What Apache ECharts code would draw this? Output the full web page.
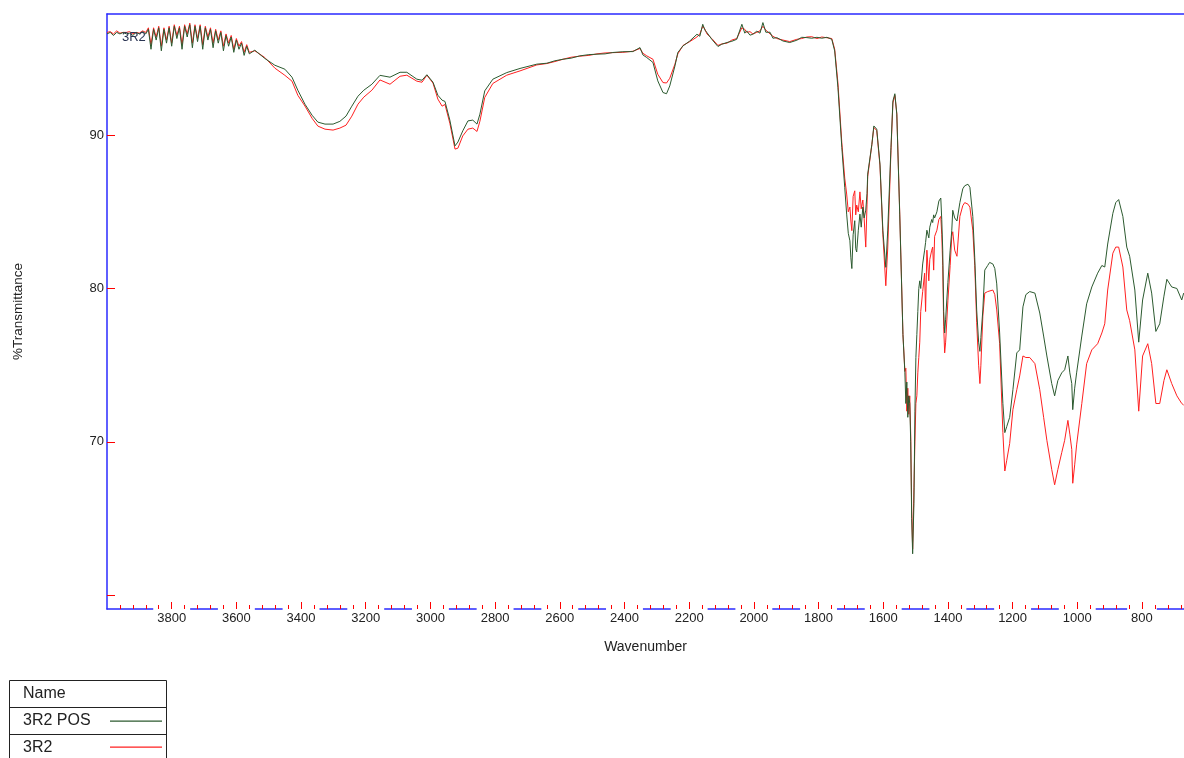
<!DOCTYPE html>
<html><head><meta charset="utf-8">
<script src="https://cdn.jsdelivr.net/npm/echarts@6/dist/echarts.min.js"></script>
<style>html,body{margin:0;padding:0;background:#fff}#c{width:1184px;height:758px}</style>
</head><body><div id="c"></div>
<script>
// ---- data (wavenumber cm-1, %Transmittance) ----
const wn1 = [4000,3990,3980,3970,3960,3950,3940,3930,3920,3910,3900,3890,
  3880,3872,3864,3856,3848,3840,3832,3824,3816,3808,3800,3792,3784,3776,3768,3760,3752,3744,3736,3728,3720,3712,3704,3696,3688,3680,3672,3664,3656,3648,3640,3632,3624,3616,3608,3600,3592,3584,3576,3568,3560];
const pos1 = [96.6,96.7,96.5,96.7,96.6,96.7,96.6,96.65,96.5,96.7,96.6,96.75,
  96.6,96.9,95.6,96.9,96.2,97.0,95.5,96.9,96.0,97.0,95.8,97.1,96.3,97.0,95.6,97.1,96.4,97.2,95.7,97.1,96.1,97.1,95.6,97.0,96.2,96.9,95.7,96.8,96.0,96.7,95.5,96.5,95.8,96.4,95.4,96.2,95.6,96.0,95.2,95.8,95.3];
const ref1 = [96.7,96.75,96.6,96.8,96.65,96.7,96.7,96.75,96.6,96.7,96.65,96.8,
  96.7,97.0,95.9,97.0,96.4,97.1,95.8,97.0,96.2,97.1,96.0,97.2,96.5,97.1,95.9,97.2,96.6,97.3,96.0,97.2,96.3,97.2,95.9,97.1,96.4,97.0,96.0,96.9,96.2,96.8,95.8,96.6,96.0,96.5,95.6,96.3,95.8,96.1,95.4,95.9,95.4];

const wn2 = [3543,3512,3481,3450,3428,3410,3388,3366,3348,3326,
  3301,3280,3261,3243,3224,3206,3181,3156,3125,3094,
  3073,3042,3026,3011,2992,2977,2964,2955,2940,2924,
  2915,2900,2884,2869,2856,2847,2832,2807,2764,2723,
  2671,2640,2615,2590,2565,2538,2510,2485,2460,2436,
  2405,2374,2352,2343,2331,2312,2297,2281,2270,2260,
  2244,2235,2219,2198,2176,2167,2158,2151,2145,2130,
  2111,2099,2083,2068,2053,2037,2028,2022,2012,2003,
  1991,1981,1972,1963,1950,1941,1929,1910,1889,1867,
  1852,1836,1821,1805,1790,1774,1759];
const pos2 = [95.54,95.0,94.56,94.3,93.78,92.93,92.02,91.3,90.85,90.72,
  90.72,90.9,91.24,91.89,92.54,92.93,93.32,93.9,93.78,94.1,
  94.1,93.65,93.58,93.94,93.45,92.6,92.28,92.2,90.98,89.3,
  89.55,90.28,90.93,90.98,90.72,91.37,92.89,93.65,94.08,94.35,
  94.63,94.69,94.85,94.95,95.02,95.17,95.25,95.28,95.3,95.39,
  95.44,95.45,95.71,95.23,95.06,94.74,93.54,92.78,92.7,93.21,
  94.51,95.39,95.82,96.14,96.58,96.45,97.23,96.84,96.69,96.25,
  95.78,95.93,96.04,96.12,96.25,97.23,96.65,96.8,96.52,96.58,
  96.78,96.65,97.34,96.71,96.71,96.32,96.36,96.14,96.04,96.19,
  96.38,96.36,96.32,96.38,96.32,96.38,96.25];
const ref2 = [95.5,95.06,94.37,93.9,93.52,92.6,91.9,91.1,90.59,90.39,
  90.33,90.46,90.65,91.24,92.02,92.48,92.93,93.6,93.32,93.84,
  93.91,93.52,93.45,93.91,93.39,92.35,91.89,92.0,90.78,89.09,
  89.15,89.95,90.39,90.46,90.24,90.91,92.46,93.37,93.91,94.19,
  94.58,94.67,94.8,94.95,95.08,95.15,95.2,95.3,95.36,95.38,
  95.4,95.47,95.65,95.34,95.17,94.95,93.97,93.43,93.4,93.71,
  94.63,95.3,95.85,96.1,96.4,96.6,97.1,96.9,96.6,96.3,
  95.85,95.95,96.0,96.2,96.3,97.0,96.9,96.7,96.75,96.6,
  96.7,96.8,97.1,96.85,96.6,96.45,96.3,96.2,96.1,96.25,
  96.3,96.4,96.42,96.3,96.4,96.35,96.3];

const wn3 = [1750,1740,1728,1719,1713,1708,1703,1700,1697,1693,
  1688,1685,1682,1677,1672,1668,1663,1659,1654,1650,
  1648,1635,1629,1620,1610,1601,1592,1586,1576,1570,
  1564,1558,1549,1539,1533,1530,1527,1524,1521,1518,
  1515,1512,1509,1505,1502,1499,1496,1493,1490,1487];
const pos3 = [95.49,93.11,89.2,86.6,84.85,83.6,83.11,82.0,81.3,83.5,
  84.42,82.6,82.38,83.8,84.85,84.0,85.31,84.6,85.11,86.2,
  87.46,89.41,90.6,90.39,88.11,83.77,81.38,83.81,89.2,92.23,
  92.7,91.37,84.85,77.0,74.5,72.5,73.9,71.6,73.0,72.5,
  70.0,65.0,62.7,66.0,72.0,75.5,77.0,78.5,80.0,80.5];
const ref3 = [95.6,93.4,89.5,87.2,86.16,85.0,85.31,84.4,83.77,86.0,
  86.37,84.8,85.44,85.0,86.3,85.2,85.77,84.6,82.7,85.5,
  87.3,89.4,90.5,90.3,88.0,83.5,80.18,82.64,89.0,92.1,
  92.6,91.4,85.0,77.0,74.6,74.8,72.0,73.5,71.8,73.0,
  70.5,65.5,63.0,67.0,70.0,72.5,73.0,74.5,75.5,76.5];

const wn4 = [1484,1478,1472,1469,1465,1459,1456,1450,1447,1444,
  1441,1434,1428,1422,1419,1416,1413,1410,1407,1400,
  1393,1388,1385,1379,1372,1363,1354,1348,1338,1332,
  1323,1317,1311,1305,1301,1298,1292,1286,1277,1271,
  1261,1255,1249,1240,1230,1224,1218,1209,1199,1187,
  1178,1168,1159,1147,1131,1116,1104,1094,1079,1070,
  1060,1048,1039,1029,1023,1017,1014,1008,1002,986,
  971,955,937,924,915,906,890,881,872,859,
  847,838,822,810,798,782,770,757,745,732,
  723,708,692,677,671];
const pos4 = [80.0,81.6,82.5,83.0,83.8,83.3,84.0,84.5,84.3,84.8,
  84.6,85.0,85.7,85.9,84.5,82.5,78.5,77.1,78.0,80.4,
  82.5,83.8,85.1,84.6,84.4,85.6,86.5,86.7,86.8,86.6,
  84.7,82.0,78.6,76.5,75.9,76.8,78.6,81.2,81.5,81.7,
  81.6,81.3,80.3,77.1,72.5,70.6,71.0,71.6,73.4,75.8,
  76.0,78.8,79.6,79.8,79.7,78.4,76.9,75.6,73.8,73.0,
  74.0,74.5,74.7,75.6,74.5,73.8,72.1,73.5,74.5,76.9,
  79.0,80.1,81.0,81.5,81.4,82.9,84.9,85.6,85.8,84.7,
  82.7,82.1,79.9,76.5,79.25,81.0,79.7,77.2,77.7,79.5,
  80.6,80.1,80.0,79.25,79.7];
const ref4 = [78.5,79.8,81.0,78.5,82.5,80.5,81.9,82.5,82.7,81.2,
  83.4,83.8,84.5,84.7,83.5,81.5,77.5,75.8,76.5,79.2,
  81.5,83.4,83.7,82.5,82.1,84.7,85.4,85.6,85.5,85.3,
  83.8,81.5,77.8,75.0,73.8,75.0,78.2,79.7,79.8,79.9,
  79.9,79.6,78.6,76.4,70.6,68.1,68.8,69.9,72.1,73.4,
  74.3,75.6,75.5,75.5,75.1,73.4,71.6,70.1,68.2,67.2,
  68.2,69.3,70.1,71.4,70.5,69.5,67.3,68.5,69.8,72.5,
  75.1,76.0,76.4,77.1,77.7,79.9,82.3,82.7,82.7,81.4,
  78.6,77.9,76.0,72.0,75.6,76.4,75.1,72.5,72.5,74.0,
  74.7,73.8,73.0,72.5,72.4];

const xTickLabels = [3800,3600,3400,3200,3000,2800,2600,2400,2200,2000,1800,1600,1400,1200,1000,800];
const xMinorTicks = [680,720,760,840,880,920,960,1040,1080,1120,1160,1240,1280,1320,1360,1440,1480,1520,1560,1640,1680,1720,1760,1840,1880,1920,1960,2040,2080,2120,2160,2240,2280,2320,2360,2440,2480,2520,2560,2640,2680,2720,2760,2840,2880,2920,2960,3040,3080,3120,3160,3240,3280,3320,3360,3440,3480,3520,3560,3640,3680,3720,3760,3840,3880,3920,3960];
const yTicks = [60,70,80,90];
const yTickLabels = [70,80,90];
const seriesNames = ['3R2 POS','3R2'];

const wn = wn1.concat(wn2, wn3, wn4);
const pos = pos1.concat(pos2, pos3, pos4);
const ref = ref1.concat(ref2, ref3, ref4);

const GREEN = '#2c5a2f', RED = '#ff2020', BLUE = '#2a2aff', TICK = '#ff0000';
const FONT = 'Liberation Sans, Arial, sans-serif';
const plain = v => String(v);

const chart = echarts.init(document.getElementById('c'));
const baseX = {type:'value', inverse:true, min:670, max:4000, splitLine:{show:false}};
chart.setOption({
  animation:false,
  grid:{left:107, right:0, top:14, bottom:149},
  xAxis:[
    Object.assign({}, baseX, {position:'bottom', z:1,
      axisLine:{show:true, onZero:false, lineStyle:{color:BLUE, width:1.5}},
      axisTick:{show:false},
      axisLabel:{customValues:xTickLabels, formatter:plain, fontSize:13, color:'#222', fontFamily:FONT,
                 backgroundColor:'#fff', padding:[5,4,0,4], margin:-2},
      name:'Wavenumber', nameLocation:'middle', nameGap:31,
      nameTextStyle:{fontSize:14, color:'#222', fontFamily:FONT}}),
    Object.assign({}, baseX, {position:'bottom', z:3,
      axisLine:{show:false, onZero:false}, axisLabel:{show:false},
      axisTick:{show:true, customValues:xTickLabels, inside:true, length:7, lineStyle:{color:TICK, width:1}}}),
    Object.assign({}, baseX, {position:'bottom', z:3,
      axisLine:{show:false, onZero:false}, axisLabel:{show:false},
      axisTick:{show:true, customValues:xMinorTicks, inside:true, length:4, lineStyle:{color:TICK, width:1}}}),
    Object.assign({}, baseX, {position:'top', z:1,
      axisLine:{show:true, onZero:false, lineStyle:{color:BLUE, width:1.5}},
      axisLabel:{show:false}, axisTick:{show:false}})
  ],
  yAxis:{type:'value', min:59.1, max:97.9, splitLine:{show:false},
    axisLine:{show:true, onZero:false, lineStyle:{color:BLUE, width:1.5}},
    axisTick:{show:true, customValues:yTicks, inside:true, length:8, lineStyle:{color:TICK, width:1}},
    axisLabel:{customValues:yTickLabels, formatter:plain, fontSize:13, color:'#222', fontFamily:FONT, margin:3},
    name:'%Transmittance', nameLocation:'middle', nameGap:82, nameRotate:90,
    nameTextStyle:{fontSize:13.5, color:'#222', fontFamily:FONT}},
  series:[
    {name:seriesNames[1], type:'line', xAxisIndex:0, showSymbol:false, z:2,
     data:wn.map((w,i)=>[w, ref[i]]), lineStyle:{color:RED, width:1}, itemStyle:{color:RED}},
    {name:seriesNames[0], type:'line', xAxisIndex:0, showSymbol:false, z:2,
     data:wn.map((w,i)=>[w, pos[i]]), lineStyle:{color:GREEN, width:1}, itemStyle:{color:GREEN}}
  ],
  graphic:[
    {type:'text', z:100, left:122, top:31, style:{text:'3R2', fontSize:13, fill:'#2b3553', fontFamily:FONT}},
    {type:'rect', z:100, shape:{x:9.5, y:680.5, width:157, height:100}, style:{fill:'none', stroke:'#222', lineWidth:1}},
    {type:'rect', z:100, shape:{x:10, y:707, width:157, height:1}, style:{fill:'#222'}},
    {type:'rect', z:100, shape:{x:10, y:734, width:157, height:1}, style:{fill:'#222'}},
    {type:'text', z:100, x:23, y:694, style:{text:'Name', fontSize:16, fill:'#222', fontFamily:FONT, verticalAlign:'middle'}},
    {type:'text', z:100, x:23, y:721, style:{text:seriesNames[0], fontSize:16, fill:'#222', fontFamily:FONT, verticalAlign:'middle'}},
    {type:'text', z:100, x:23, y:748, style:{text:seriesNames[1], fontSize:16, fill:'#222', fontFamily:FONT, verticalAlign:'middle'}},
    {type:'rect', z:100, shape:{x:110, y:720.5, width:52, height:1.3}, style:{fill:GREEN}},
    {type:'rect', z:100, shape:{x:110, y:746.5, width:52, height:1.3}, style:{fill:RED}}
  ]
});
</script></body></html>
